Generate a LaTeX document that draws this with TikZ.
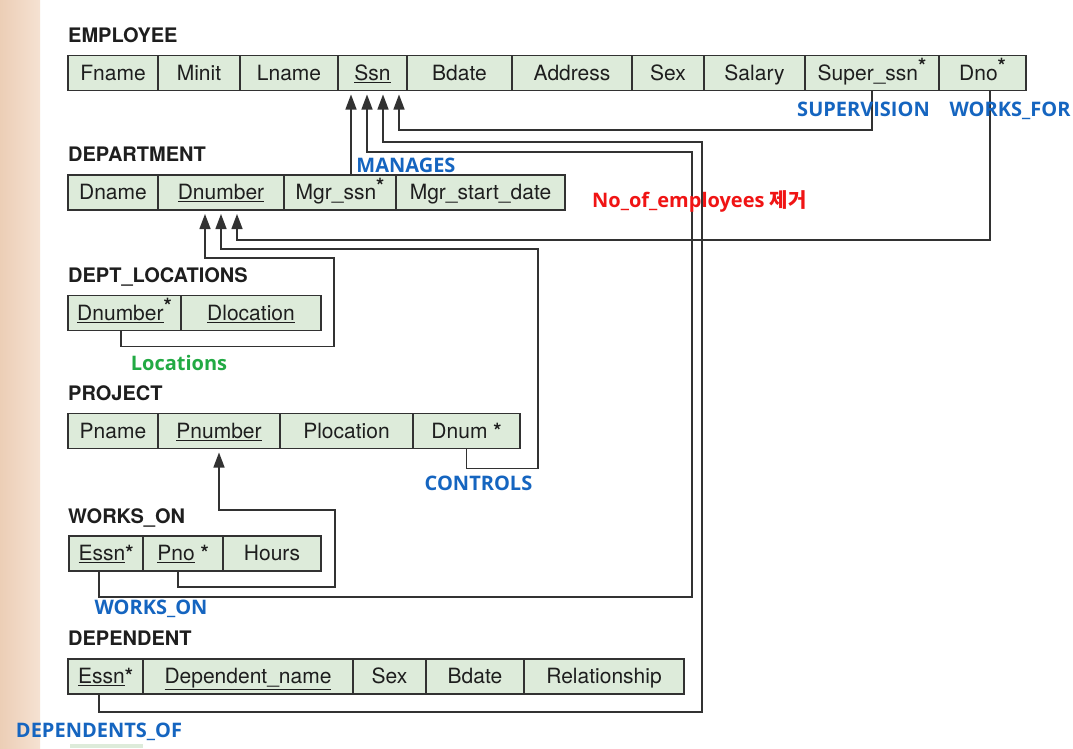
\documentclass[tikz,border=0pt]{standalone}
\usepackage{fontspec}
\setmainfont{TeX Gyre Heros}
\newfontfamily\lblfont{Open Sans}
\newfontfamily\krfont{Noto Sans CJK KR}
\usetikzlibrary{arrows.meta}

\definecolor{cellfill}{RGB}{221,235,218}
\definecolor{cellline}{RGB}{50,50,50}
\definecolor{inkgray}{RGB}{30,30,30}
\definecolor{relblue}{RGB}{21,101,192}
\definecolor{locgreen}{RGB}{34,170,68}
\definecolor{notered}{RGB}{240,20,20}
\definecolor{paperedge}{RGB}{236,206,182}
\definecolor{paperlight}{RGB}{245,226,210}

\newcommand{\upstar}{\raisebox{.3em}{\bfseries *}}
\newcommand{\fkstar}{{\bfseries *}}

\begin{document}
\begin{tikzpicture}[
    x=1pt, y=-1pt,
    cell/.style={draw=cellline, fill=cellfill, line width=1.3pt, anchor=west,
        minimum height=35pt, inner sep=0pt, outer sep=0pt, text=inkgray,
        text height=16pt, text depth=2pt,
        font=\fontsize{21}{25}\selectfont},
    title/.style={anchor=base west, inner sep=0pt, text=inkgray,
        font=\fontsize{20}{24}\selectfont\bfseries},
    fk/.style={draw=cellline, line width=1.4pt},
    ref/.style={fk, -{Triangle[length=15pt,width=11pt]}, shorten >=4pt},
    lbl/.style={anchor=base, inner sep=0pt, text=relblue,
        font=\fontsize{20}{24}\selectfont\lblfont\bfseries}
]

% --- Page and scanned edge ---
\fill[white] (0,0) rectangle (1073,748);
\shade[left color=paperedge, right color=paperlight] (0,0) rectangle (40,748);
\useasboundingbox (0,0) rectangle (1073,748);

% --- EMPLOYEE ---
\node[title] (employee) at (68,42) {EMPLOYEE};
\node[cell, minimum width=90pt]  (fname)    at (68,73)  {Fname};
\node[cell, minimum width=82pt]  (minit)    at (158,73) {Minit};
\node[cell, minimum width=98pt]  (lname)    at (240,73) {Lname};
\node[cell, minimum width=69pt]  (ssn)      at (338,73) {\underline{Ssn}};
\node[cell, minimum width=105pt] (bdate)    at (407,73) {Bdate};
\node[cell, minimum width=120pt] (address)  at (512,73) {Address};
\node[cell, minimum width=72pt]  (sex)      at (632,73) {Sex};
\node[cell, minimum width=101pt] (salary)   at (704,73) {Salary};
\node[cell, minimum width=134pt] (superssn) at (805,73) {Super\_ssn\upstar};
\node[cell, minimum width=87pt]  (dno)      at (939,73) {Dno\upstar};

% --- DEPARTMENT ---
\node[title] (department) at (68,161) {DEPARTMENT};
\node[cell, minimum width=90pt]  (dname)   at (68,192.5)  {Dname};
\node[cell, minimum width=126pt] (dnumber) at (158,192.5) {\underline{Dnumber}};
\node[cell, minimum width=112pt] (mgrssn)  at (284,192.5) {Mgr\_ssn\upstar};
\node[cell, minimum width=169pt] (mgrdate) at (396,192.5) {Mgr\_start\_date};

% --- DEPT_LOCATIONS ---
\node[title] (deptloc) at (68,282) {DEPT\_LOCATIONS};
\node[cell, minimum width=113pt] (lnumber)   at (68,313)  {\underline{Dnumber}\upstar};
\node[cell, minimum width=140pt] (dlocation) at (181,313) {\underline{Dlocation}};

% --- PROJECT ---
\node[title] (project) at (68,400) {PROJECT};
\node[cell, minimum width=90pt]  (pname)     at (68,431)  {Pname};
\node[cell, minimum width=122pt] (pnumber)   at (158,431) {\underline{Pnumber}};
\node[cell, minimum width=133pt] (plocation) at (280,431) {Plocation};
\node[cell, minimum width=107pt] (dnum)      at (413,431) {Dnum \fkstar};

% --- WORKS_ON ---
\node[title] (worksontab) at (68,523) {WORKS\_ON};
\node[cell, minimum width=74pt] (wessn) at (69,553.5)  {\underline{Essn}\fkstar};
\node[cell, minimum width=80pt] (pno)   at (143,553.5) {\underline{Pno} \fkstar};
\node[cell, minimum width=98pt] (hours) at (223,553.5) {Hours};

% --- DEPENDENT ---
\node[title] (dependent) at (68,645) {DEPENDENT};
\node[cell, minimum width=75pt]  (dessn)   at (68,676.5)  {\underline{Essn}\fkstar};
\node[cell, minimum width=210pt] (depname) at (143,676.5) {\underline{Dependent\_name}};
\node[cell, minimum width=73pt]  (dsex)    at (353,676.5) {Sex};
\node[cell, minimum width=98pt]  (dbdate)  at (426,676.5) {Bdate};
\node[cell, minimum width=160pt] (relship) at (524,676.5) {Relationship};
\fill[cellfill] (70,744) rectangle (143,748);

% --- Bend points of the references ---
\coordinate (won) at (692,152);
\coordinate (dep) at (702,142);
\coordinate (loc) at (334,258);
\coordinate (ctl) at (538,249);
\coordinate (pw)  at (335,510);

% --- References to EMPLOYEE.Ssn ---
\draw[ref] ([xshift=11pt]mgrssn.north) -- ([xshift=-21.5pt]ssn.south);
\draw[ref] ([xshift=-7pt]wessn.south) -- ++(0,26) -| (won) -| ([xshift=-5.5pt]ssn.south);
\draw[ref] ([xshift=-6.5pt]dessn.south) -- ++(0,18) -| (dep) -| ([xshift=10.5pt]ssn.south);
\draw[ref] (superssn.south) -- ++(0,39.5) -| ([xshift=26.5pt]ssn.south);

% --- References to DEPARTMENT.Dnumber ---
\draw[ref] ([xshift=-3.5pt]lnumber.south) -- ++(0,16) -| (loc) -| ([xshift=-16pt]dnumber.south);
\draw[ref] (dnum.south) -- ++(0,20) -| (ctl) -| (dnumber.south);
\draw[ref] ([xshift=7.5pt]dno.south) -- ++(0,149.5) -| ([xshift=16pt]dnumber.south);

% --- Reference to PROJECT.Pnumber ---
\draw[ref] ([xshift=-5pt]pno.south) -- ++(0,16) -| (pw) -| (pnumber.south);

% --- Relationship labels ---
\node[lbl] (supervision) at (863.5,116) {SUPERVISION};
\node[lbl] (worksfor)    at (1010,116)  {WORKS\_FOR};
\node[lbl] (manages)     at (406,172)   {MANAGES};
\node[lbl, anchor=base west, text=notered] (noemp) at (592,207) {No\_of\_employees {\krfont 제거}};
\node[lbl, text=locgreen] (locations) at (179,370) {Locations};
\node[lbl] (controls)    at (478.5,490) {CONTROLS};
\node[lbl] (workson)     at (151,614)   {WORKS\_ON};
\node[lbl] (depof)       at (99,737)    {DEPENDENTS\_OF};

\end{tikzpicture}
\end{document}
